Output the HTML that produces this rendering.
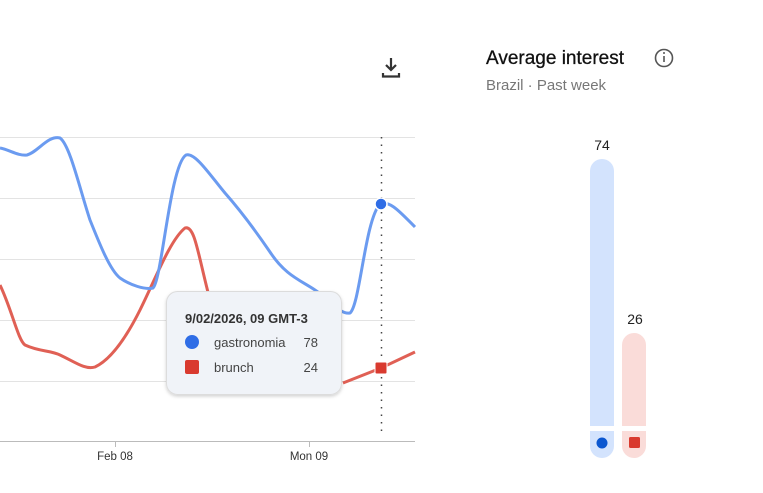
<!DOCTYPE html>
<html><head><style>
body{margin:0;width:763px;height:493px;background:#fff;font-family:"Liberation Sans",sans-serif;overflow:hidden;position:relative}
.t{position:absolute}
</style></head><body>
<svg class="t" style="left:0;top:0" width="763" height="493">
<defs><filter id="sh" x="-10%" y="-10%" width="120%" height="130%"><feDropShadow dx="0" dy="1.5" stdDeviation="1.5" flood-color="#000" flood-opacity="0.18"/></filter></defs>
<g stroke="#e3e3e3" stroke-width="1">
<line x1="0" y1="137.5" x2="415" y2="137.5"/><line x1="0" y1="198.5" x2="415" y2="198.5"/>
<line x1="0" y1="259.5" x2="415" y2="259.5"/><line x1="0" y1="320.5" x2="415" y2="320.5"/>
<line x1="0" y1="381.5" x2="415" y2="381.5"/></g>
<line x1="0" y1="441.5" x2="415" y2="441.5" stroke="#bbb"/>
<line x1="115.5" y1="441" x2="115.5" y2="447" stroke="#bbb"/>
<line x1="309.5" y1="441" x2="309.5" y2="447" stroke="#bbb"/>
<text x="115" y="460" font-size="11.5" fill="#333" text-anchor="middle">Feb 08</text>
<text x="309" y="460" font-size="11.5" fill="#333" text-anchor="middle">Mon 09</text>
<line x1="381.5" y1="137" x2="381.5" y2="436" stroke="#444" stroke-dasharray="1.5,6" stroke-width="1.5"/>
<path d="M0,285 C12,310 18,340 25,345 C40,352 50,350 60,355 C75,362 85,370 95,367 C110,360 125,340 140,310 C155,280 170,240 185,228 C195,225 198,255 210,300" fill="none" stroke="#e06055" stroke-width="3"/>
<path d="M343,383 L381,368 L415,352" fill="none" stroke="#e06055" stroke-width="3"/>
<path d="M0,148 C10,150 18,156 27,155 C38,152 48,135 60,138 C70,145 80,190 90,220 C100,245 110,270 120,278 C130,285 145,290 153,288 C162,280 170,165 186,155 C195,152 210,175 225,193 C240,210 255,230 270,252 C285,275 300,280 315,290 C330,300 340,315 350,313 C360,305 365,220 380,204 C390,200 400,212 415,227" fill="none" stroke="#6b9bf0" stroke-width="3"/>
<circle cx="381" cy="204" r="6" fill="#2f6de6" stroke="#fff" stroke-width="1.5"/>
<rect x="375" y="362" width="12" height="12" rx="1.5" fill="#d93a2f" stroke="#fff" stroke-width="1"/>
<rect x="166.5" y="291.5" width="175" height="103" rx="11" fill="#f0f3f8" stroke="#dcdcdc" filter="url(#sh)"/>
<text x="185" y="323" font-size="13" font-weight="bold" fill="#333">9/02/2026, 09 GMT-3</text>
<circle cx="192" cy="342" r="7" fill="#2f6de6"/>
<text x="214" y="347" font-size="13" fill="#444">gastronomia</text>
<text x="318" y="347" font-size="13" fill="#444" text-anchor="end">78</text>
<rect x="185" y="360" width="14" height="14" rx="2" fill="#d93a2f"/>
<text x="214" y="372" font-size="13" fill="#444">brunch</text>
<text x="318" y="372" font-size="13" fill="#444" text-anchor="end">24</text>
<g fill="none" stroke="#333" stroke-width="2.2"><path d="M391,58 v12 M386,65 l5,5 l5,-5 M383,73 v3.5 h16 v-3.5"/></g>
<text x="486" y="64" font-size="19" fill="#111" stroke="#111" stroke-width="0.3">Average interest</text>
<circle cx="664" cy="58" r="8.5" fill="none" stroke="#555" stroke-width="1.6"/>
<line x1="664" y1="56" x2="664" y2="62" stroke="#555" stroke-width="1.6"/><circle cx="664" cy="53" r="1" fill="#555"/>
<text x="486" y="90" font-size="15" fill="#777">Brazil  ·  Past week</text>
<text x="602" y="150" font-size="14" fill="#222" text-anchor="middle">74</text>
<text x="635" y="324" font-size="14" fill="#222" text-anchor="middle">26</text>
<path d="M590,426 V171 a12,12 0 0 1 24,0 V426 Z" fill="#d3e3fd"/>
<path d="M590,431 h24 v15 a12,12 0 0 1 -24,0 Z" fill="#d3e3fd"/>
<path d="M622,426 V345 a12,12 0 0 1 24,0 V426 Z" fill="#fadcd9"/>
<path d="M622,431 h24 v15 a12,12 0 0 1 -24,0 Z" fill="#fadcd9"/>
<circle cx="602" cy="443" r="5.5" fill="#0b57d0"/>
<rect x="629" y="437" width="11" height="11" rx="1.5" fill="#d93a2f"/>
</svg>
</body></html>
